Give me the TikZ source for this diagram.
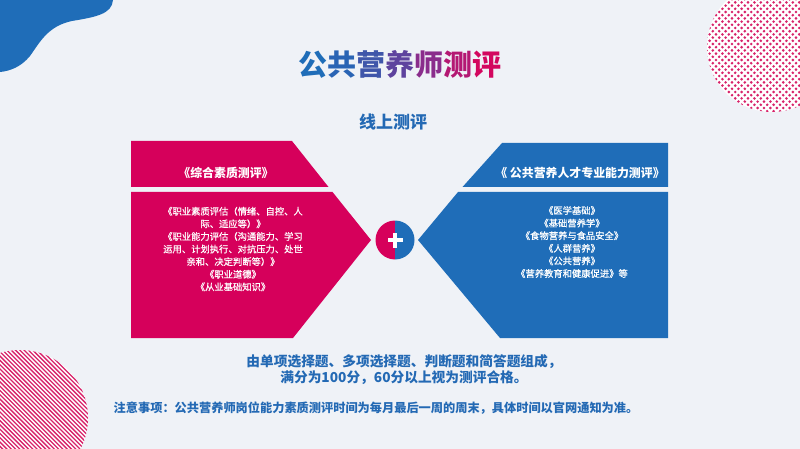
\documentclass[tikz,border=0pt]{standalone}
\usepackage{fontspec}
\setmainfont{Noto Sans CJK SC}
\newfontfamily\medf{Noto Sans CJK SC}[FakeBold=0.7]
\definecolor{bgc}{HTML}{EFF2F7}
\definecolor{mag}{HTML}{D6005B}
\definecolor{blu}{HTML}{1F6DB8}
\definecolor{txtblue}{HTML}{2369B4}
\definecolor{pinkc}{HTML}{D8236A}
\definecolor{t1}{HTML}{1F6DB8}
\definecolor{t2}{HTML}{2A64B4}
\definecolor{t3}{HTML}{3F56AA}
\definecolor{t4}{HTML}{5E439E}
\definecolor{t5}{HTML}{8A2D8C}
\definecolor{t6}{HTML}{B41873}
\definecolor{t7}{HTML}{D3075F}
\tikzset{
  hdr/.style={text=white,font=\bfseries\fontsize{11.9}{14}\selectfont,inner sep=0pt},
  bodytxt/.style={text=white,font=\medf\fontsize{9.3}{12.6}\selectfont,align=center,inner sep=0pt},
  bluetxt/.style={text=txtblue,font=\bfseries\fontsize{13.7}{15.5}\selectfont,align=center,inner sep=0pt},
  notetxt/.style={text=txtblue,font=\bfseries\fontsize{12.2}{14}\selectfont,inner sep=0pt},
}
\begin{document}
\begin{tikzpicture}[x=1pt,y=-1pt]
\useasboundingbox (0,0) rectangle (800,449);
\fill[bgc] (0,0) rectangle (800,449);
% top-left blob
\fill[blu] (0,0) -- (113,0) .. controls (112,14) and (96,17) .. (72,21)
  .. controls (48,26) and (40,42) .. (30,56)
  .. controls (21,67) and (10,71) .. (0,72) -- cycle;
% dotted circle top right
\begin{scope}
\clip (772,47) circle (65);
\fill[white] (772,47) circle (65);
\foreach \i in {0,...,44}{
  \foreach \j in {0,...,23}{
    \fill[pinkc] ({700+\j*6.4+mod(\i,2)*3.2},{-20+\i*3.2}) circle (1.45);
  }
}
\end{scope}
% striped circle bottom left
\begin{scope}
\clip (20,418) circle (68);
\fill[white] (20,418) circle (68);
\foreach \c in {-100,-95.7,...,100}{
  \draw[pinkc,line width=1.3] ({20+\c-80},338) -- ({20+\c+80},498);
}
\end{scope}
% left shape
\fill[mag] (131,141) -- (292,141) -- (328.5,187) -- (131,187) -- cycle;
\fill[mag] (131,192) -- (332.5,192) -- (371,240) -- (293,338) -- (131,338) -- cycle;
% right shape
\fill[blu] (462.5,187) -- (502,143) -- (668,143) -- (668,187) -- cycle;
\fill[blu] (458,192) -- (668,192) -- (668,338) -- (500,338) -- (418,240) -- cycle;
% plus circle
\begin{scope}
\clip (395,240) circle (19.5);
\fill[mag] (374,219) rectangle (395,261);
\fill[blu] (395,219) rectangle (416,261);
\end{scope}
\fill[white] (387.5,238.4) rectangle (402.5,241.6);
\fill[white] (393.4,232.5) rectangle (396.6,247.5);
% titles
\node[font=\bfseries\fontsize{29}{34}\selectfont,inner sep=0pt] (title) at (400,64.5)
  {\textcolor{t1}{公}\textcolor{t2}{共}\textcolor{t3}{营}\textcolor{t4}{养}\textcolor{t5}{师}\textcolor{t6}{测}\textcolor{t7}{评}};
\node[text=txtblue,font=\bfseries\fontsize{17}{20}\selectfont,inner sep=0pt] (sub) at (393,122) {线上测评};
% header texts
\node[hdr] (lh) at (226,173) {《综合素质测评》};
\node[hdr] (rh) at (580,173) {《 公共营养人才专业能力测评》};
% body texts
\node[bodytxt] (lb) at (233,249) {《职业素质评估（情绪、自控、人\\际、适应等）》\\《职业能力评估（沟通能力、学习\\运用、计划执行、对抗压力、处世\\亲和、决定判断等）》\\《职业道德》\\《从业基础知识》};
\node[bodytxt] (rb) at (572,242) {《医学基础》\\《基础营养学》\\《食物营养与食品安全》\\《人群营养》\\《公共营养》\\《营养教育和健康促进》等};
% bottom texts
\node[bluetxt] (desc) at (404,369.5) {由单项选择题、多项选择题、判断题和简答题组成，\\满分为100分，60分以上视为测评合格。};
\node[notetxt] (note) at (376,408) {注意事项：公共营养师岗位能力素质测评时间为每月最后一周的周末，具体时间以官网通知为准。};
\end{tikzpicture}
\end{document}
